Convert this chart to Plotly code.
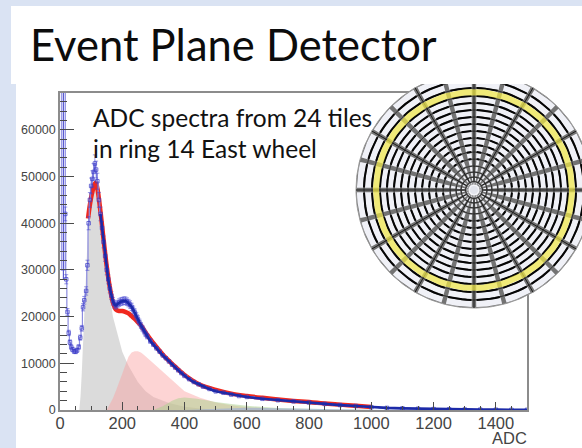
import numpy as np
import plotly.graph_objects as go

W, H = 582, 448

# --- spectrum data ---
adc_blue = [17, 20, 24, 28, 32, 36, 40, 45, 50, 55, 60, 65, 70, 74, 78, 84, 88, 92, 96, 100, 104, 108, 112, 116, 120,
            125, 130, 135, 140, 145, 150, 155, 160, 165, 170, 175, 180, 185, 190, 195, 200, 205, 210, 215, 220, 225, 230, 235,
            240, 245, 250, 255, 260, 265, 270, 275, 280, 290, 300, 310, 320, 330, 340, 350, 360, 370, 380, 390, 400, 415, 430,
            445, 460, 480, 500, 525, 550, 575, 600, 650, 700, 750, 800, 850, 900, 950, 1000, 1050, 1100, 1150, 1200, 1250, 1300, 1350, 1400, 1450, 1500]
cnt_blue = [42000, 28000, 21000, 16500, 14500, 13500, 13000, 12600, 12500, 12800, 13500, 15500, 17500, 22000, 23500,
            25500, 31000, 40000, 45000, 48000, 49500, 51000, 52800, 51500, 49000, 45000, 42000, 39000, 36000, 33000, 30000, 28000,
            26000, 24500, 23300, 22600, 22400, 22700, 23000, 23200, 23300, 23400, 23400, 23200, 22900, 22600, 22100, 21500, 20900,
            20200, 19500, 18800, 18100, 17500, 16900, 16300, 15800, 14800, 14000, 13200, 12500, 11700, 11100, 10400, 9700, 9100,
            8500, 7900, 7300, 6600, 6000, 5500, 5000, 4500, 4000, 3700, 3300, 3000, 2800, 2400, 2100, 1850, 1600, 1300, 1050, 850, 600,
            450, 350, 270, 200, 150, 120, 90, 70, 50, 40]

# off-scale pedestal column next to the y axis
adc_spike = [5, 5, 17, 17]
cnt_spike = [75000, 30000, 30000, 75000]
adc_spike_mid = [11, 11]
cnt_spike_mid = [75000, 28000]

adc_fit = [90, 95, 100, 105, 110, 115, 120, 130, 140, 150, 160, 170, 180, 190, 200, 210, 220, 230, 240, 250, 260, 280, 300, 330,
           360, 400, 450, 500, 550, 600, 650, 700, 750, 800, 850, 900, 950, 1000]
cnt_fit = [41000, 43500, 45500, 47000, 48300, 48700, 47500, 42500, 36500, 30800, 26300, 23000, 21500, 21200, 21200, 21000, 20700,
           20100, 19500, 18800, 18100, 16100, 14300, 11900, 9900, 7500, 5400, 4300, 3500, 3000, 2600, 2250, 1950, 1700, 1400, 1150, 900, 650]

adc_mip1 = [62, 66, 70, 75, 80, 85, 91, 100, 110, 115, 120, 130, 140, 150, 160, 170, 185, 200, 220, 250, 275, 300, 350, 400, 450, 500]
cnt_mip1 = [0, 3000, 8000, 15000, 24000, 32000, 40500, 45500, 48000, 48500, 47000, 42000, 36000, 29500, 24500, 20000, 16000, 12500, 9500, 6000, 4000, 2800, 1500, 700, 300, 80]

adc_mip2 = [150, 160, 170, 180, 190, 200, 210, 220, 230, 240, 250, 260, 270, 285, 300, 325, 350, 375, 400, 450, 500, 550, 600, 700, 800]
cnt_mip2 = [0, 1100, 2500, 4200, 6000, 8000, 10000, 11400, 12300, 12600, 12600, 12300, 11800, 11000, 10000, 8500, 7000, 5400, 4000, 2600, 1600, 1000, 600, 250, 80]

adc_mip3 = [300, 330, 360, 380, 400, 420, 440, 470, 500, 550, 600, 700, 800, 900, 1000]
cnt_mip3 = [0, 800, 2000, 2500, 2700, 2600, 2400, 2100, 1700, 1300, 900, 450, 200, 100, 40]

adc_mip4 = [400, 450, 500, 550, 600, 700, 800, 900, 1000, 1100]
cnt_mip4 = [0, 150, 300, 450, 500, 400, 250, 150, 80, 30]

# --- labels ---
title_text = "Event Plane Detector"
note_line1 = "ADC spectra from 24 tiles"
note_line2 = "in ring 14 East wheel"
x_title = "ADC"

# --- detector drawing: tile row edges as seen in the picture, 24 sectors, highlighted row ---
ring_edges = [5, 8.5, 13, 18, 24, 31, 38, 45, 52, 59, 66, 73, 80, 87, 94, 102, 110, 118]
n_rings = len(ring_edges) - 1
n_sectors = 24
highlight_row = 14
r_hole = ring_edges[0]
r_outer = ring_edges[-1]

PAGE = "#dae3f3"
fig = go.Figure()


def area(x, y, color):
    fig.add_trace(go.Scatter(x=x, y=y, mode="lines", fill="tozeroy", fillcolor=color,
                             line=dict(width=0, color=color), hoverinfo="skip", showlegend=False,
                             xaxis="x", yaxis="y"))


area(adc_mip1, cnt_mip1, "rgba(190,190,190,0.55)")
area(adc_mip2, cnt_mip2, "rgba(250,160,160,0.45)")
area(adc_mip3, cnt_mip3, "rgba(170,210,140,0.5)")
area(adc_mip4, cnt_mip4, "rgba(150,170,220,0.55)")

fig.add_trace(go.Scatter(x=adc_fit, y=cnt_fit, mode="lines", line=dict(color="#f0281e", width=4.5, shape="spline"),
                         showlegend=False, xaxis="x", yaxis="y"))
fig.add_trace(go.Scatter(x=adc_spike, y=cnt_spike, mode="lines", line=dict(color="#9a9ae6", width=1.4),
                         showlegend=False, xaxis="x", yaxis="y"))
fig.add_trace(go.Scatter(x=adc_spike_mid, y=cnt_spike_mid, mode="lines", line=dict(color="#5a5ad0", width=1.2),
                         showlegend=False, xaxis="x", yaxis="y"))
fig.add_trace(go.Scatter(x=adc_blue, y=cnt_blue, mode="lines", line=dict(color="#8c8ce0", width=1.2, shape="hvh"),
                         showlegend=False, xaxis="x", yaxis="y"))
err = [max(300.0, 0.035 * c) if a < 300 else 0 for a, c in zip(adc_blue, cnt_blue)]
fig.add_trace(go.Scatter(x=adc_blue, y=cnt_blue, mode="markers",
                         marker=dict(symbol="square-open", size=3.5, color="rgba(60,60,200,0.7)", line=dict(width=1)),
                         error_y=dict(type="data", array=err, color="rgba(70,70,210,0.55)", thickness=1, width=2),
                         showlegend=False, xaxis="x", yaxis="y"))
fig.add_trace(go.Scatter(x=[a for a in adc_blue if a >= 130], y=[c for a, c in zip(adc_blue, cnt_blue) if a >= 130],
                         mode="lines", line=dict(color="#1c2aa8", width=2.6),
                         showlegend=False, xaxis="x", yaxis="y"))

# --- detector wheel on its own axes (1 data unit = 1 pixel) ---
edges = np.array(ring_edges, dtype=float)
sector = 2 * np.pi / n_sectors


def arc(r, a0, a1, n=6):
    t = np.linspace(a0, a1, n)
    return r * np.cos(t), r * np.sin(t)


full = np.linspace(0, 2 * np.pi, 241)


def disk_trace(x, y, **kw):
    fig.add_trace(go.Scatter(x=x, y=y, hoverinfo="skip", showlegend=False, xaxis="x2", yaxis="y2", **kw))


disk_trace(r_outer * np.cos(full), r_outer * np.sin(full), mode="lines", fill="toself", fillcolor="#737373",
           line=dict(color="#9a9a9a", width=1))

# lattice arcs that make the hatching along the spokes
lx, ly = [], []
for r in edges[1:-1]:
    lx += list(r * np.cos(full)) + [None]
    ly += list(r * np.sin(full)) + [None]
disk_trace(lx, ly, mode="lines", line=dict(color="#2e2e2e", width=1))

tx, ty, bx, by = [], [], [], []
for i in range(n_rings):
    r0, r1 = edges[i], edges[i + 1]
    rm = (r0 + r1) / 2
    for k in range(n_sectors):
        a0, a1 = k * sector, (k + 1) * sector
        gap = min(2.2 / rm, sector * 0.3)
        x0, y0 = arc(r0 + 0.9, a0 + gap, a1 - gap)
        x1, y1 = arc(r1 - 0.9, a1 - gap, a0 + gap)
        tx += list(x0) + list(x1) + [x0[0], None]
        ty += list(y0) + list(y1) + [y0[0], None]
        if i < n_rings - 1 and r1 * sector > 8:
            gap2 = 2.8 / r1
            x2, y2 = arc(r1, a0 + gap2, a1 - gap2)
            bx += list(x2) + [None]
            by += list(y2) + [None]
disk_trace(tx, ty, mode="lines", fill="toself", fillcolor="#f0f1f7", line=dict(width=0, color="#f0f1f7"))
disk_trace(bx, by, mode="lines", line=dict(color="#050505", width=2))

sx, sy = [], []
for k in range(0, n_sectors, 2):
    a = k * sector
    sx += [edges[1] * np.cos(a), r_outer * np.cos(a), None]
    sy += [edges[1] * np.sin(a), r_outer * np.sin(a), None]
disk_trace(sx, sy, mode="lines", line=dict(color="#1a1a1a", width=1))

r_y = (edges[highlight_row] + edges[highlight_row + 1]) / 2
disk_trace(r_y * np.cos(full), r_y * np.sin(full), mode="lines", line=dict(color="rgba(240,232,70,0.72)", width=6))
disk_trace(r_hole * np.cos(full), r_hole * np.sin(full), mode="lines", fill="toself", fillcolor="#e2e4ec",
           line=dict(color="#f4f4f8", width=1.5))

# wheel axes pixel window: x 354..582, y 84..310, centre at (474, 190)
cx, cy = 474, 190
wx0, wx1, wy0, wy1 = 354, 582, 84, 310

axis_col = "#8c8c8c"
tick_col = "#4a4a4a"
lab_col = "#444444"

fig.update_layout(
    width=W, height=H, margin=dict(l=0, r=0, t=0, b=0), autosize=False,
    paper_bgcolor="white", plot_bgcolor="rgba(0,0,0,0)", showlegend=False,
    xaxis=dict(domain=[60 / W, 527 / W], range=[0, 1500], anchor="y", showgrid=False, zeroline=False, automargin=False,
               showline=True, linecolor=axis_col, linewidth=1.5, mirror=True,
               ticks="inside", ticklen=8, tickwidth=1, tickcolor=tick_col, dtick=200, tick0=0,
               minor=dict(dtick=50, ticks="inside", ticklen=4, tickwidth=1, tickcolor=tick_col, showgrid=False),
               ticklabelstandoff=-3,
               tickfont=dict(family="Liberation Sans", size=16.5, color=lab_col)),
    yaxis=dict(domain=[(H - 410) / H, (H - 93) / H], range=[0, 67900], anchor="x", showgrid=False, zeroline=False, automargin=False,
               showline=True, linecolor=axis_col, linewidth=1.5, mirror=True,
               ticks="inside", ticklen=14, tickwidth=1, tickcolor=tick_col, dtick=10000, tick0=0,
               minor=dict(dtick=2000, ticks="inside", ticklen=7, tickwidth=1, tickcolor=tick_col, showgrid=False),
               tickformat="d", tickfont=dict(family="Liberation Sans", size=12.5, color=lab_col)),
    xaxis2=dict(domain=[wx0 / W, wx1 / W], range=[wx0 - cx, wx1 - cx], anchor="y2", visible=False, fixedrange=True, automargin=False),
    yaxis2=dict(domain=[(H - wy1) / H, (H - wy0) / H], range=[cy - wy1, cy - wy0], anchor="x2", visible=False, fixedrange=True, automargin=False),
    shapes=[
        dict(type="rect", xref="paper", yref="paper", x0=0, x1=1, y0=(H - 6) / H, y1=1, fillcolor=PAGE, line_width=0, layer="below"),
        dict(type="rect", xref="paper", yref="paper", x0=0, x1=11 / W, y0=(H - 84) / H, y1=1, fillcolor=PAGE, line_width=0, layer="below"),
        dict(type="rect", xref="paper", yref="paper", x0=0, x1=16 / W, y0=0, y1=(H - 84) / H, fillcolor=PAGE, line_width=0, layer="below"),
    ],
    annotations=[
        dict(text=title_text, xref="paper", yref="paper", x=28 / W, y=(H - 44) / H, xanchor="left", yanchor="middle",
             showarrow=False, font=dict(family="Lato", size=43.5, color="#0c0c0c")),
        dict(text=note_line1, xref="paper", yref="paper", x=91 / W, y=(H - 118) / H, xanchor="left", yanchor="middle",
             showarrow=False, font=dict(family="Lato", size=24.5, color="#111111")),
        dict(text=note_line2, xref="paper", yref="paper", x=91 / W, y=(H - 148) / H, xanchor="left", yanchor="middle",
             showarrow=False, font=dict(family="Lato", size=24.5, color="#111111")),
        dict(text=x_title, xref="paper", yref="paper", x=528 / W, y=0, xanchor="right", yanchor="bottom", borderpad=0,
             showarrow=False, font=dict(family="Liberation Sans", size=16.5, color=lab_col)),
    ],
)

fig.write_html("out.html", config=dict(displayModeBar=False), post_script="document.body.style.margin='0';")
